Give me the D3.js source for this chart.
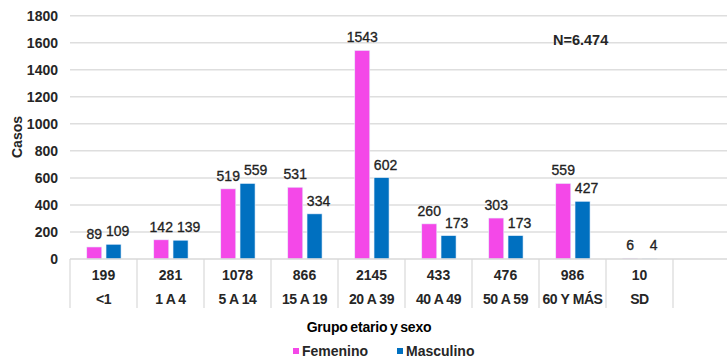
<!DOCTYPE html>
<html><head><meta charset="utf-8">
<script src="https://cdn.jsdelivr.net/npm/d3@7"></script>
<style>
html,body{margin:0;padding:0;background:#fff;}
svg{display:block;font-family:"Liberation Sans",Arial,sans-serif;}
</style></head>
<body>
<svg id="chart" width="727" height="358"></svg>
<script>
const categories = ["<1","1 A 4","5 A 14","15 A 19","20 A 39","40 A 49","50 A 59","60 Y MÁS","SD"];
const totals = [199,281,1078,866,2145,433,476,986,10];
const femenino = [89,142,519,531,1543,260,303,559,6];
const masculino = [109,139,559,334,602,173,173,427,4];
const seriesNames = ["Femenino","Masculino"];
const seriesColors = ["#f448e8","#0070c0"];
const yTicks = [0,200,400,600,800,1000,1200,1400,1600,1800];
const noteText = "N=6.474";

const svg = d3.select("#chart");
const mLeft = 70, mRight = 740, mTop = 15.7, mBottom = 259;
const txt = "#262626";

const x = d3.scaleBand().domain([...categories, ""]).range([mLeft, mRight]);
const bw = x.bandwidth();
const x1 = d3.scaleBand().domain(seriesNames).range([bw*0.25, bw*0.762]).paddingInner(0.22);
const y = d3.scaleLinear().domain([0,1800]).range([mBottom, mTop]);
const color = d3.scaleOrdinal().domain(seriesNames).range(seriesColors);

// gridlines
svg.append("g").selectAll("line").data(yTicks.filter(d=>d>0)).join("line")
  .attr("x1", mLeft).attr("x2", 727)
  .attr("y1", d=>y(d)).attr("y2", d=>y(d))
  .attr("stroke", "#dedede").attr("stroke-width", 1.5);

// y axis labels
const yAxis = d3.axisLeft(y).tickValues(yTicks).tickFormat(d3.format("d")).tickSize(0).tickPadding(12);
const ya = svg.append("g").attr("transform", `translate(${mLeft},0)`).call(yAxis);
ya.select(".domain").remove();
ya.selectAll("text").attr("font-size", 14).attr("font-weight", "bold")
  .attr("fill", txt).attr("font-family", '"Liberation Sans",Arial,sans-serif');

// y title
svg.append("text").attr("transform", `translate(22,137) rotate(-90)`)
  .attr("text-anchor","middle").attr("font-size", 14).attr("font-weight","bold")
  .attr("fill",txt).text("Casos");

// bars
const rows = categories.map((c,i)=>({cat:c, vals:[{s:"Femenino", v:femenino[i]},{s:"Masculino", v:masculino[i]}]}));
const g = svg.append("g").selectAll("g").data(rows).join("g")
  .attr("transform", d=>`translate(${x(d.cat)},0)`);
g.selectAll("rect").data(d=>d.vals).join("rect")
  .attr("x", d=>x1(d.s)).attr("width", x1.bandwidth())
  .attr("y", d=>y(d.v)).attr("height", d=>mBottom - y(d.v))
  .attr("fill", d=>color(d.s))
  .attr("stroke", d=>d.v>0 ? "#e8f0fb" : "none").attr("stroke-width", 0.6);
g.each(function(){
  const grp = d3.select(this);
  const labels = grp.selectAll("text").data(d=>d.vals).join("text")
    .attr("x", d=>x1(d.s)+x1.bandwidth()/2 + (d.s==="Masculino" ? 4 : 0))
    .attr("y", d=>y(d.v)-8)
    .attr("text-anchor","middle").attr("font-size", 14)
    .attr("fill","#222").attr("stroke","#222").attr("stroke-width",0.3)
    .text(d=>d.v);
  // avoid overlap: push the second label right if it collides with the first
  const nodes = labels.nodes();
  const a = nodes[0], b = nodes[1];
  const ax = +a.getAttribute("x"), bx = +b.getAttribute("x");
  const ay = +a.getAttribute("y"), by = +b.getAttribute("y");
  const aw = a.getComputedTextLength(), bwid = b.getComputedTextLength();
  if (Math.abs(ay - by) < 14) {
    const need = (ax + aw/2 + 4) - (bx - bwid/2);
    if (need > 0) b.setAttribute("x", bx + need);
  }
});

// baseline and table
svg.append("line").attr("x1", mLeft).attr("x2", 727).attr("y1", mBottom).attr("y2", mBottom)
  .attr("stroke","#d9d9d9").attr("stroke-width",1.5);
const bounds = [...categories, ""].map(c=>x(c)).concat([x("")+bw]);
svg.append("g").selectAll("line").data(bounds).join("line")
  .attr("x1", d=>d).attr("x2", d=>d).attr("y1", mBottom).attr("y2", 308)
  .attr("stroke","#d9d9d9").attr("stroke-width",1.2);

const tbl = svg.append("g").selectAll("g").data(categories).join("g")
  .attr("transform", d=>`translate(${x(d)+bw/2},0)`);
tbl.append("text").attr("y", 280).attr("text-anchor","middle")
  .attr("font-size",14).attr("font-weight","bold").attr("fill",txt)
  .text((d,i)=>totals[i]);
tbl.append("text").attr("y", 304).attr("text-anchor","middle")
  .attr("font-size",14).attr("font-weight","bold").attr("fill",txt)
  .attr("letter-spacing",-0.4).text(d=>d);

// x title
svg.append("text").attr("x", 369).attr("y", 332).attr("text-anchor","middle")
  .attr("font-size",14).attr("font-weight","bold").attr("fill","#000")
  .attr("letter-spacing", -0.2).attr("word-spacing", -1).text("Grupo etario y sexo");

// legend
const leg = svg.append("g").selectAll("g").data(seriesNames).join("g")
  .attr("transform", (d,i)=>`translate(${i===0?293:397},351)`);
leg.append("rect").attr("x",0).attr("y",-3).attr("width",6).attr("height",6).attr("fill", d=>color(d));
leg.append("text").attr("x",9).attr("y",5).attr("font-size",14).attr("font-weight","bold")
  .attr("fill",txt).text(d=>d);

// note
svg.append("text").attr("x", 553).attr("y", 45).attr("font-size",14.5).attr("font-weight","bold")
  .attr("fill",txt).text(noteText);
</script>
</body></html>
